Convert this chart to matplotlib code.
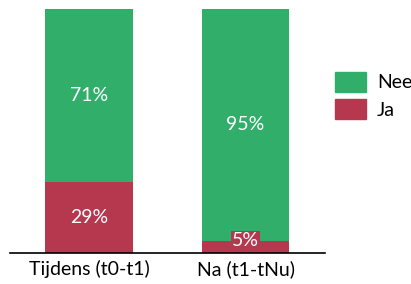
import numpy as np
import matplotlib.pyplot as plt
from matplotlib.patches import Patch

categories = ['Tijdens (t0-t1)', 'Na (t1-tNu)']
ja = [29, 5]
nee = [71, 95]

green = '#32AE6B'
red = '#B5384F'

plt.rcParams['font.family'] = ['Lato', 'DejaVu Sans']
fs = 14

fig = plt.figure(figsize=(4.11, 2.84), dpi=100)
ax = fig.add_axes([10 / 411, 1 - 253 / 284, 315 / 411, 244 / 284])

x = np.arange(len(categories))
width = 0.562
ax.bar(x, ja, width, color=red, linewidth=0)
ax.bar(x, nee, width, bottom=ja, color=green, linewidth=0)

for i in range(len(categories)):
    ax.text(x[i], ja[i] + nee[i] / 2, f'{nee[i]}%', ha='center', va='center',
            color='white', fontsize=fs)
    if ja[i] >= 10:
        ax.text(x[i], ja[i] / 2, f'{ja[i]}%', ha='center', va='center',
                color='white', fontsize=fs)
    else:
        ax.text(x[i], ja[i] / 2 + 2.5, f'{ja[i]}%', ha='center', va='center',
                color='white', fontsize=fs,
                bbox=dict(facecolor=red, edgecolor='none', pad=1.0))

ax.set_xlim(-0.505, 1.508)
ax.set_ylim(0, 100)
ax.set_xticks(x)
ax.set_xticklabels(categories, fontsize=fs)
ax.tick_params(axis='x', length=0, pad=5)
ax.set_yticks([])
for s in ['top', 'right', 'left']:
    ax.spines[s].set_visible(False)
ax.spines['bottom'].set_linewidth(1.2)

handles = [Patch(color=green, label='Nee'), Patch(color=red, label='Ja')]
fig.legend(handles=handles, loc='upper left', bbox_to_anchor=(335 / 411, 1 - 72 / 284),
           frameon=False, fontsize=fs, handlelength=1.6, handleheight=1.18,
           labelspacing=0.4, handletextpad=0.55, borderaxespad=0, borderpad=0)

fig.savefig('out.png', dpi=100)
